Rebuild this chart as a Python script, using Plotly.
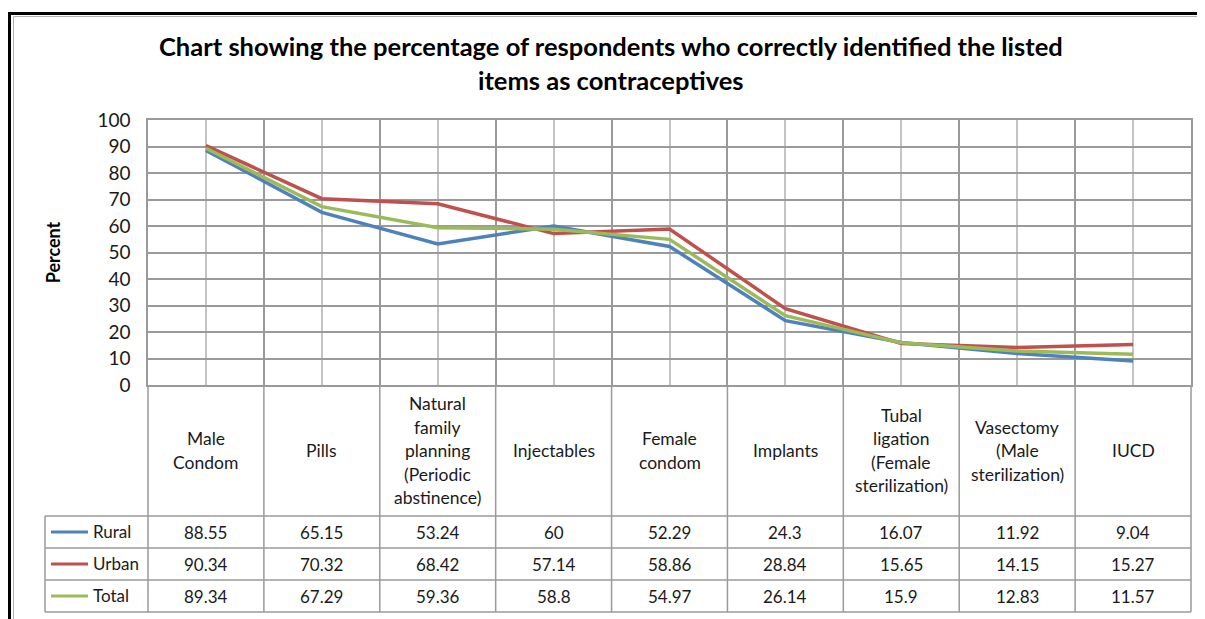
import plotly.graph_objects as go

# ---------------- data ----------------
categories = [
    "Male<br>Condom",
    "Pills",
    "Natural<br>family<br>planning<br>(Periodic<br>abstinence)",
    "Injectables",
    "Female<br>condom",
    "Implants",
    "Tubal<br>ligation<br>(Female<br>sterilization)",
    "Vasectomy<br>(Male<br>sterilization)",
    "IUCD",
]
rural = [88.55, 65.15, 53.24, 60, 52.29, 24.3, 16.07, 11.92, 9.04]
urban = [90.34, 70.32, 68.42, 57.14, 58.86, 28.84, 15.65, 14.15, 15.27]
total = [89.34, 67.29, 59.36, 58.8, 54.97, 26.14, 15.9, 12.83, 11.57]
series_names = ["Rural", "Urban", "Total"]
series_values = [rural, urban, total]
series_colors = ["#4F81BD", "#C0504D", "#9BBB59"]
y_ticks = list(range(0, 101, 10))
title_lines = [
    "Chart showing the percentage of respondents who correctly identified the listed",
    "items as contraceptives",
]
y_title = "Percent"

# ---------------- layout geometry (screen pixels) ----------------
OFF = 8                      # page body margin of the browser
SW, SH = 1205, 619           # screen size
W, H = SW - OFF, SH - OFF    # figure size
PL, PR = 148, 1191           # plot area left/right (screen px)
PT, PB = 120, 385            # plot area top/bottom (y=100 / y=0)
TB = 612                     # table bottom
HEADER_MID = 450.5
LINE_GAP = 23.5
ROW_LINES = [516, 548, 580, 612]
ROW_MID = [532.5, 564.5, 596.5]
LEG_LEFT = 45
FONT = "Lato"
GRID = "#9a9a9a"
GRID_LIGHT = "#c4c4c4"
TXT = "#1a1a1a"

n = len(categories)


def px(xp):
    return (xp - PL) / (PR - PL)


def py(yp):
    return (TB - yp) / (TB - PT)


fig = go.Figure()
for name, vals, col in zip(series_names, series_values, series_colors):
    fig.add_trace(go.Scatter(
        x=list(range(n)), y=vals, mode="lines", name=name,
        line=dict(color=col, width=3.5), showlegend=False,
        hovertemplate="%{y}<extra>" + name + "</extra>",
    ))

shapes = []
annotations = []

# outer frame
shapes.append(dict(type="rect", xref="paper", yref="paper",
                   x0=px(9.5), x1=px(SW + 20), y0=py(SH + 20), y1=py(13.5),
                   line=dict(color="black", width=3), layer="below"))
shapes.append(dict(type="rect", xref="paper", yref="paper",
                   x0=px(13.5), x1=px(SW + 20), y0=py(SH + 20), y1=py(16.5),
                   line=dict(color="#b0b0b0", width=1), layer="below"))

# table: vertical boundaries through header and rows
for k in range(n + 1):
    shapes.append(dict(type="line", xref="paper", yref="paper",
                       x0=k / n, x1=k / n, y0=py(TB), y1=py(PB),
                       line=dict(color=GRID, width=1.5)))
# table: horizontal lines
for yl in ROW_LINES:
    shapes.append(dict(type="line", xref="paper", yref="paper",
                       x0=px(LEG_LEFT), x1=1, y0=py(yl), y1=py(yl),
                       line=dict(color=GRID, width=1.5)))
shapes.append(dict(type="line", xref="paper", yref="paper",
                   x0=px(LEG_LEFT), x1=px(LEG_LEFT), y0=py(TB), y1=py(ROW_LINES[0]),
                   line=dict(color=GRID, width=1.5)))

# header labels (one annotation per line for Excel-like line spacing)
for i, cat in enumerate(categories):
    parts = cat.split("<br>")
    m = len(parts)
    for j, part in enumerate(parts):
        yy = HEADER_MID + (j - (m - 1) / 2) * LINE_GAP
        annotations.append(dict(x=i, xref="x", y=py(yy), yref="paper",
                                text=part, showarrow=False, xanchor="center",
                                yanchor="middle",
                                font=dict(family=FONT, size=17.5, color=TXT)))

# data rows
for r, (name, vals, col) in enumerate(zip(series_names, series_values, series_colors)):
    ym = ROW_MID[r]
    for i, v in enumerate(vals):
        annotations.append(dict(x=i, xref="x", y=py(ym), yref="paper",
                                text=f"{v:g}", showarrow=False, xanchor="center",
                                yanchor="middle",
                                font=dict(family=FONT, size=17, color=TXT)))
    # legend key
    shapes.append(dict(type="line", xref="paper", yref="paper",
                       x0=px(51), x1=px(88), y0=py(ym - 0.5), y1=py(ym - 0.5),
                       line=dict(color=col, width=3)))
    annotations.append(dict(x=px(91), xref="paper", y=py(ym - 1), yref="paper",
                            text=name, showarrow=False, xanchor="left",
                            yanchor="middle",
                            font=dict(family=FONT, size=17, color=TXT)))

# title lines
for t, yy in zip(title_lines, [46.5, 79.5]):
    annotations.append(dict(x=px(611), xref="paper", y=py(yy), yref="paper",
                            text=f"<b>{t}</b>", showarrow=False,
                            xanchor="center", yanchor="middle",
                            font=dict(family=FONT, size=25.5, color="black")))

fig.update_layout(
    width=W, height=H,
    margin=dict(l=PL - OFF, r=SW - PR, t=PT - OFF, b=SH - TB, autoexpand=False),
    paper_bgcolor="white", plot_bgcolor="white",
    shapes=shapes, annotations=annotations,
    xaxis=dict(range=[-0.5, n - 0.5], tick0=-0.5, dtick=1,
               showticklabels=False, ticks="", automargin=False,
               showgrid=True, gridcolor=GRID, gridwidth=1.5,
               minor=dict(tick0=0, dtick=1, showgrid=True,
                          gridcolor=GRID_LIGHT, gridwidth=1.5),
               showline=True, linecolor=GRID, linewidth=1.5, mirror=True,
               zeroline=False, fixedrange=True),
    yaxis=dict(domain=[py(PB), 1], range=[0, 100], tickvals=y_ticks,
               showgrid=True, gridcolor=GRID, gridwidth=1.5,
               showline=True, linecolor=GRID, linewidth=1.5, mirror=True,
               zeroline=False, ticks="", ticklabelstandoff=12, automargin=False,
               tickfont=dict(family=FONT, size=19, color=TXT),
               title=dict(text=f"<b>{y_title}</b>", standoff=32,
                          font=dict(family=FONT, size=18, color="black")),
               fixedrange=True),
)

fig.write_html("out.html")
